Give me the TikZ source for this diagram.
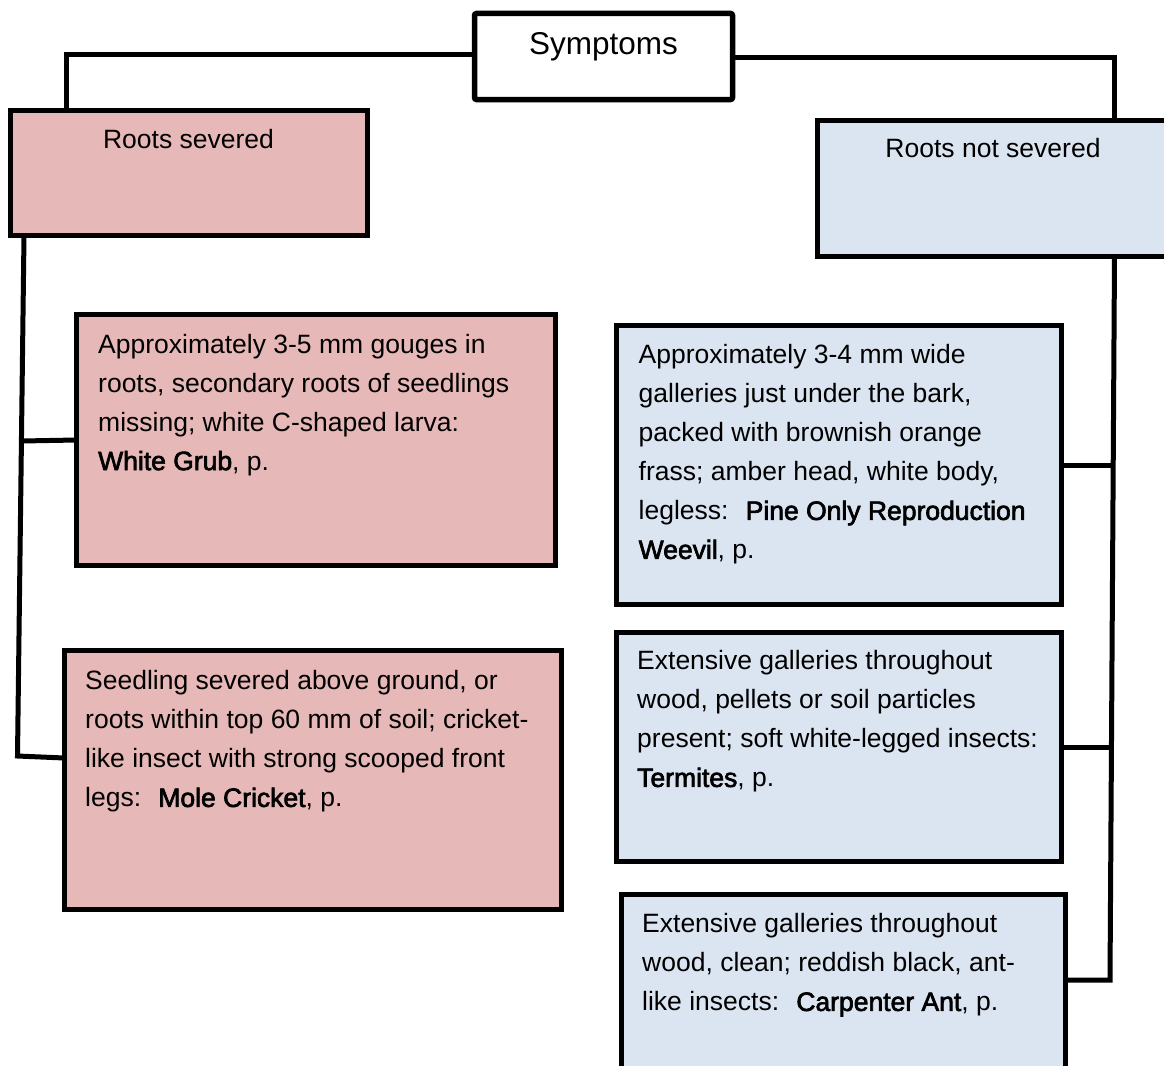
\documentclass[tikz,border=0pt]{standalone}
\usepackage{fontspec}
% medium-weight bold set on the regular widths
\setmainfont{Liberation Sans}[BoldFont={Liberation Sans}, BoldFeatures={FakeBold=2.5}]
\definecolor{pinkfill}{HTML}{E6B8B7}
\definecolor{bluefill}{HTML}{DBE5F1}
\begin{document}
\begin{tikzpicture}[x=1pt,y=-1pt,
  box/.style={draw=black, line width=5.5pt, rectangle, anchor=north west,
    inner sep=0pt, outer sep=0pt},
  pinkbox/.style={box, fill=pinkfill},
  bluebox/.style={box, fill=bluefill},
  topbox/.style={box, fill=white, rounded corners=2pt},
  body/.style={anchor=north west, align=left, inner sep=0pt,
    font=\fontsize{26.5}{39}\selectfont},
  head/.style={anchor=base, inner sep=0pt, font=\fontsize{26.5}{39}\selectfont},
  conn/.style={line width=5pt, line join=miter}]

\useasboundingbox (0,0) rectangle (1164,1065);
\clip (0,0) rectangle (1164,1065);

% top of the key
\node[topbox, minimum width=258pt, minimum height=86pt] (sym) at (474.5,13.5) {};
\node[head, font=\fontsize{31.5}{39}\selectfont] (symt) at (603.5,54.5) {Symptoms};

% the two main branches
\node[pinkbox, minimum width=357pt, minimum height=125pt] (rs) at (10.5,110.5) {};
\node[head] (rst) at (188.5,148.3) {Roots severed};

\node[bluebox, minimum width=365pt, minimum height=136pt] (rns) at (817.5,120.5) {};
\node[head] (rnst) at (993,157.5) {Roots not severed};

% roots severed
\node[pinkbox, minimum width=479pt, minimum height=251pt] (wg) at (76.5,314.5) {};
\node[body] (wgt) at (98,333.7) {Approximately 3-5 mm gouges in\\
roots, secondary roots of seedlings\\
missing; white C-shaped larva:\\
\textbf{White Grub}, p.};

\node[pinkbox, minimum width=497pt, minimum height=259pt] (mc) at (64.5,650.5) {};
\node[body] (mct) at (85,670.5) {Seedling severed above ground, or\\
roots within top 60 mm of soil; cricket-\\
like insect with strong scooped front\\
legs:~ \textbf{Mole Cricket}, p.};

% roots not severed
\node[bluebox, minimum width=445pt, minimum height=279pt] (wv) at (616.5,325.5) {};
\node[body] (wvt) at (638.5,344.5) {Approximately 3-4 mm wide\\
galleries just under the bark,\\
packed with brownish orange\\
frass; amber head, white body,\\
legless:~ \textbf{Pine Only Reproduction}\\
\textbf{Weevil}, p.};

\node[bluebox, minimum width=445pt, minimum height=229pt] (tm) at (616.5,632.5) {};
\node[body] (tmt) at (637,650.5) {Extensive galleries throughout\\
wood, pellets or soil particles\\
present; soft white-legged insects:\\
\textbf{Termites}, p.};

\node[bluebox, minimum width=444pt, minimum height=200pt] (ca) at (621.5,894.5) {};
\node[body] (cat) at (642,913.5) {Extensive galleries throughout\\
wood, clean; reddish black, ant-\\
like insects:~ \textbf{Carpenter Ant}, p.};

% connector bends
\coordinate (lbend) at (17.5,756);
\coordinate (ljoin) at (21.5,441);
\coordinate (rbend) at (1110,980);
\coordinate (rjoin1) at (1113,465);
\coordinate (rjoin2) at (1112,747);

% connectors: symptoms to the two branches
\draw[conn] ([yshift=1.5pt]sym.west) -| ([xshift=55.5pt]rs.north west);
\draw[conn] ([yshift=-1.5pt]sym.east) -| ([xshift=297pt]rns.north west);

% left trunk
\draw[conn] ([xshift=13.5pt]rs.south west) -- (lbend) -- ([yshift=22pt]mc.west);
\draw[conn] (ljoin) -- (wg.west);

% right trunk
\draw[conn] ([xshift=297pt]rns.south west) -- (rbend) -- ([yshift=-85.5pt]ca.north east);
\draw[conn] (rjoin1) -- (wv.east);
\draw[conn] (rjoin2) -- (tm.east);
\end{tikzpicture}
\end{document}
